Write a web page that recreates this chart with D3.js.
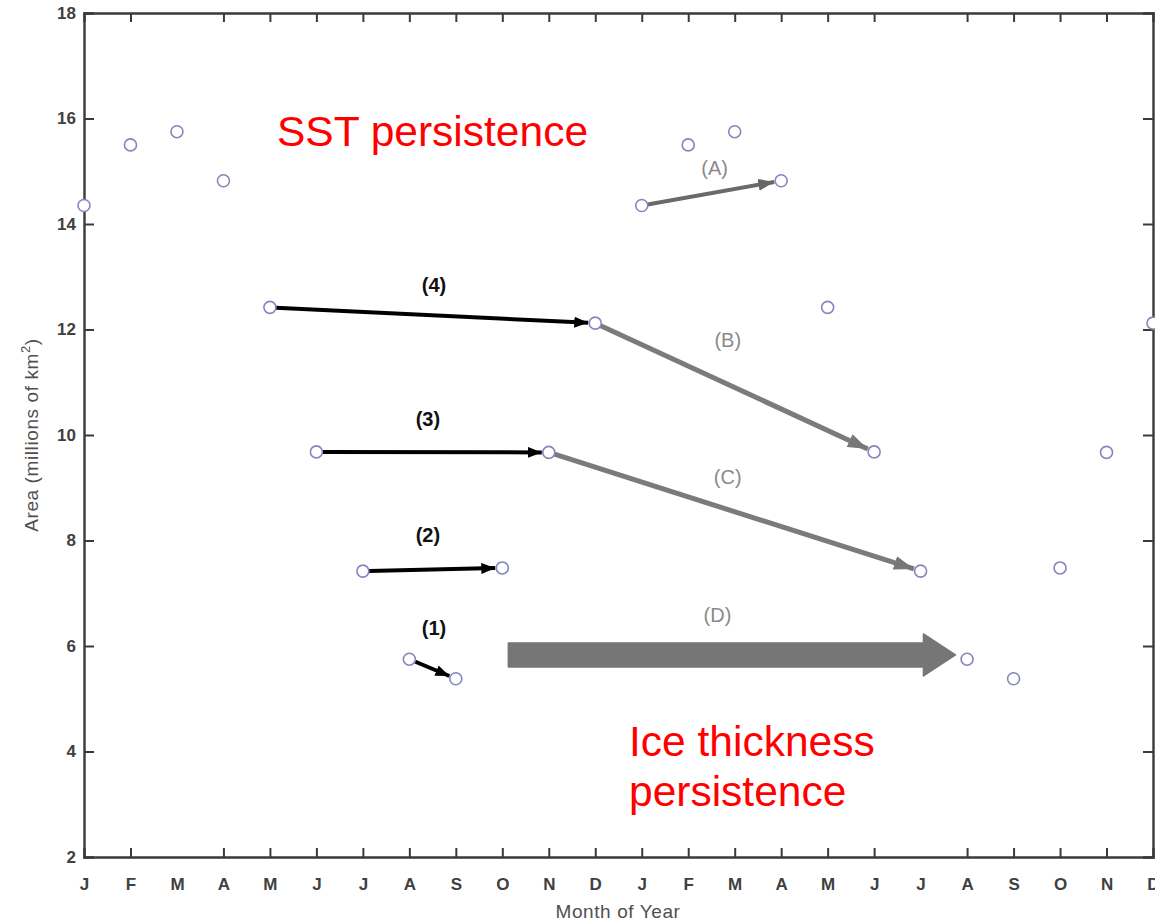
<!DOCTYPE html>
<html>
<head>
<meta charset="utf-8">
<script src="https://cdn.jsdelivr.net/npm/d3@7"></script>
<style>
  body { margin: 0; background: #fff; }
  svg { display: block; }
</style>
</head>
<body>
<svg id="chart" width="1155" height="924"></svg>
<script>
// Month labels across two years
let monthLabels = ["J","F","M","A","M","J","J","A","S","O","N","D",
                   "J","F","M","A","M","J","J","A","S","O","N","D"];
// Sea ice area (millions of km2), same seasonal cycle repeated for two years
let areaYear = [14.35, 15.5, 15.75, 14.82, 12.42, 9.68, 7.42, 5.75, 5.38, 7.48, 9.67, 12.12];
let area = areaYear.concat(areaYear);
let yTicks = [2, 4, 6, 8, 10, 12, 14, 16, 18];

// Persistence arrows: from month index -> to month index
let arrowFrom  = [7, 6, 5, 4, 12, 11, 10];
let arrowTo    = [8, 9, 10, 11, 15, 17, 18];
let arrowLabel = ["(1)", "(2)", "(3)", "(4)", "(A)", "(B)", "(C)"];
let arrowKind  = ["sst", "sst", "sst", "sst", "a", "ice", "ice"];
// label anchor in data units (month index, area)
let labelMonth = [7.53, 7.4, 7.4, 7.53, 13.57, 13.85, 13.85];
let labelArea  = [6.3, 8.07, 10.27, 12.81, 15.02, 11.76, 9.18];

// Big ice thickness arrow (D)
let bigArrowMonths = [9.13, 18.75];
let bigArrowArea = 5.83;
let bigLabel = { text: "(D)", month: 13.63, area: 6.55 };

///////////////////////////////
/// Layout
///////////////////////////////
let svg = d3.select("#chart");
let plotLeft = 84, plotRight = 1153, plotTop = 13, plotBottom = 857;

let x = d3.scaleLinear().domain([0, 23]).range([plotLeft, plotRight]);
let y = d3.scaleLinear().domain([2, 18]).range([plotBottom, plotTop]);

let axisColor = "#3a3a3a";
let tickFont = "'Liberation Sans', Arial, sans-serif";

// Arrow head markers
let defs = svg.append("defs");
function addMarker(id, color, len, half) {
    defs.append("marker")
        .attr("id", id)
        .attr("viewBox", `0 ${-half} ${len} ${half * 2}`)
        .attr("refX", len)
        .attr("refY", 0)
        .attr("markerUnits", "userSpaceOnUse")
        .attr("markerWidth", len)
        .attr("markerHeight", half * 2)
        .attr("orient", "auto")
        .append("path")
        .attr("d", `M0,${-half}L${len},0L0,${half}Z`)
        .attr("fill", color);
}
addMarker("headBlack", "#000", 14, 5.5);
addMarker("headGrey", "#777", 20, 7);
addMarker("headA", "#666", 16, 6);

// Axes box
let g = svg.append("g");

let xAxisB = d3.axisBottom(x).tickValues(d3.range(24)).tickSize(-9).tickPadding(21)
    .tickFormat((d, i) => monthLabels[i]);
let xAxisT = d3.axisTop(x).tickValues(d3.range(24)).tickSize(-9).tickFormat("");
let yAxisL = d3.axisLeft(y).tickValues(yTicks).tickSize(-10).tickPadding(8);
let yAxisR = d3.axisRight(y).tickValues(yTicks).tickSize(-10).tickFormat("");

function styleAxis(sel) {
    sel.selectAll("path.domain").attr("stroke", axisColor).attr("stroke-width", 2.4);
    sel.selectAll(".tick line").attr("stroke", axisColor).attr("stroke-width", 2);
    sel.selectAll(".tick text")
        .attr("fill", "#404040")
        .style("font-family", tickFont)
        .style("font-size", "17px")
        .style("font-weight", "bold");
}

g.append("g").attr("transform", `translate(0,${plotBottom})`).call(xAxisB).call(styleAxis);
g.append("g").attr("transform", `translate(0,${plotTop})`).call(xAxisT).call(styleAxis);
g.append("g").attr("transform", `translate(${plotLeft},0)`).call(yAxisL).call(styleAxis);
g.append("g").attr("transform", `translate(${plotRight},0)`).call(yAxisR).call(styleAxis);

// Hide the end ticks that sit on the frame corners
g.selectAll(".tick").filter(d => d === 0 || d === 23 || d === 2 || d === 18)
    .select("line").attr("stroke-opacity", 0);

// Axis titles
svg.append("text")
    .attr("x", 618).attr("y", 918)
    .attr("text-anchor", "middle")
    .style("font-family", tickFont).style("font-size", "19px")
    .style("letter-spacing", "0.6px")
    .attr("fill", "#505050")
    .text("Month of Year");

let yTitle = svg.append("text")
    .attr("transform", `translate(38,${(plotTop + plotBottom) / 2}) rotate(-90)`)
    .attr("text-anchor", "middle")
    .style("font-family", tickFont).style("font-size", "19px")
    .style("letter-spacing", "0.6px")
    .attr("fill", "#505050");
yTitle.append("tspan").text("Area (millions of km");
yTitle.append("tspan").attr("dy", -8).style("font-size", "13px").text("2");
yTitle.append("tspan").attr("dy", 8).text(")");

///////////////////////////////
/// Arrows
///////////////////////////////
let r = 6;
function shorten(x1, y1, x2, y2, a, b) {
    let dx = x2 - x1, dy = y2 - y1, L = Math.sqrt(dx * dx + dy * dy);
    return [x1 + dx / L * a, y1 + dy / L * a, x2 - dx / L * b, y2 - dy / L * b];
}

let arrowStyle = {
    sst: { color: "#000", width: 4, marker: "headBlack" },
    ice: { color: "#7b7b7b", width: 5, marker: "headGrey" },
    a:   { color: "#6a6a6a", width: 4, marker: "headA" }
};

let arrows = arrowFrom.map((f, i) => ({
    from: f, to: arrowTo[i], label: arrowLabel[i], kind: arrowKind[i],
    lm: labelMonth[i], la: labelArea[i]
}));

let arrowG = svg.append("g");
arrows.forEach(function (a) {
    let s = arrowStyle[a.kind];
    let p = shorten(x(a.from), y(area[a.from]), x(a.to), y(area[a.to]), r, r + 1);
    arrowG.append("line")
        .attr("x1", p[0]).attr("y1", p[1]).attr("x2", p[2]).attr("y2", p[3])
        .attr("stroke", s.color)
        .attr("stroke-width", s.width)
        .attr("marker-end", `url(#${s.marker})`);
    arrowG.append("text")
        .attr("x", x(a.lm)).attr("y", y(a.la))
        .attr("text-anchor", "middle")
        .attr("dominant-baseline", "middle")
        .style("font-family", tickFont)
        .style("font-size", "20px")
        .style("font-weight", a.kind === "sst" ? "bold" : "normal")
        .attr("fill", a.kind === "sst" ? "#111" : "#8a8a8a")
        .text(a.label);
});

// Big arrow (D)
let bx0 = x(bigArrowMonths[0]), bx1 = x(bigArrowMonths[1]), by = y(bigArrowArea);
let shaftHalf = 12, headHalf = 21, headLen = 32;
arrowG.append("path")
    .attr("d", d3.line()([
        [bx0, by - shaftHalf], [bx1 - headLen, by - shaftHalf], [bx1 - headLen, by - headHalf],
        [bx1, by], [bx1 - headLen, by + headHalf], [bx1 - headLen, by + shaftHalf],
        [bx0, by + shaftHalf]
    ]) + "Z")
    .attr("fill", "#767676")
    .attr("stroke", "#767676")
    .attr("stroke-width", 1.5)
    .attr("stroke-linejoin", "round");
arrowG.append("text")
    .attr("x", x(bigLabel.month)).attr("y", y(bigLabel.area))
    .attr("text-anchor", "middle")
    .attr("dominant-baseline", "middle")
    .style("font-family", tickFont).style("font-size", "20px")
    .attr("fill", "#8a8a8a")
    .text(bigLabel.text);

///////////////////////////////
/// Data points
///////////////////////////////
svg.append("g").selectAll("circle")
    .data(area)
    .enter()
    .append("circle")
    .attr("cx", (d, i) => x(i))
    .attr("cy", d => y(d))
    .attr("r", r)
    .attr("fill", "#fff")
    .attr("stroke", "#8686bd")
    .attr("stroke-width", 1.6);

///////////////////////////////
/// Annotations
///////////////////////////////
let red = svg.append("g")
    .style("font-family", tickFont)
    .style("font-size", "42.5px")
    .attr("fill", "#ff0000");
red.append("text").attr("x", 277).attr("y", 146).text("SST persistence");
red.append("text").attr("x", 629).attr("y", 756).text("Ice thickness");
red.append("text").attr("x", 629).attr("y", 806).text("persistence");
</script>
</body>
</html>
